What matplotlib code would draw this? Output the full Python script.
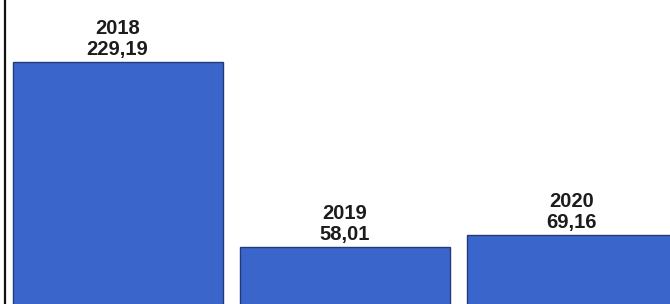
import matplotlib.pyplot as plt

# --- Datos ---
years = ["2018", "2019", "2020"]
values = [229.19, 58.01, 69.16]
labels = ["229,19", "58,01", "69,16"]

fig = plt.figure(figsize=(6.7, 3.04), dpi=100)
ax = fig.add_axes([5 / 670, 0, 665 / 670, 1])

x = list(range(len(years)))
ax.bar(x, values, width=0.925, color="#3a66cc", edgecolor="#24397a", linewidth=1.0)

for xi, v, yr, lab in zip(x, values, years, labels):
    ax.annotate(f"{yr}\n{lab}", (xi, v), xytext=(0, 2), textcoords="offset points",
                ha="center", va="bottom", fontsize=14.5, family="Liberation Sans",
                weight="bold", color="#1c1c1c", linespacing=1.15)

ax.set_xlim(-0.496, 2.434)
ax.set_ylim(5.26, 286.56)
for s in ["top", "right", "bottom"]:
    ax.spines[s].set_visible(False)
ax.spines["left"].set_linewidth(1.6)
ax.spines["left"].set_color("#111111")
ax.set_xticks([])
ax.set_yticks([])

fig.savefig("out.png", dpi=100)
